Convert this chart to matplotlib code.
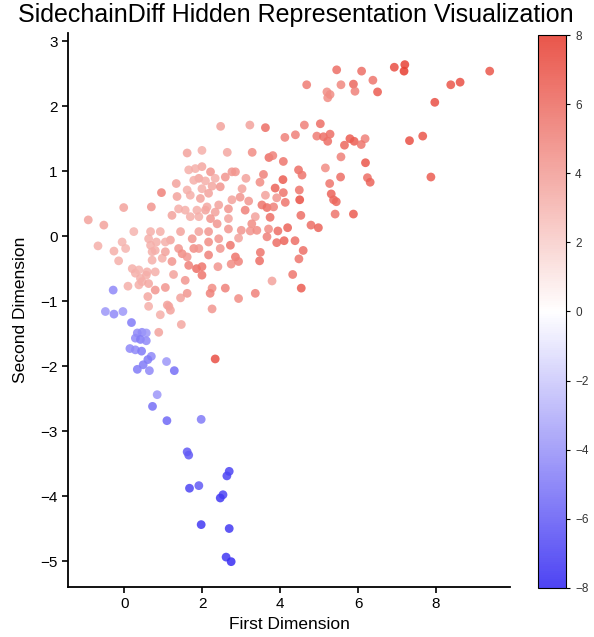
import matplotlib
matplotlib.use("Agg")
import matplotlib.pyplot as plt
from matplotlib.colors import LinearSegmentedColormap

plt.rcParams["font.family"] = ["Liberation Sans", "DejaVu Sans"]

# (x, y, value)
pts = [
    # right / top-right group
    (7.20, 2.64, 7.5), (7.18, 2.54, 7.8), (6.93, 2.60, 7.0), (9.38, 2.54, 6.8),
    (8.38, 2.33, 6.8), (8.62, 2.37, 7.0), (7.97, 2.06, 7.0), (5.45, 2.56, 5.8),
    (6.09, 2.54, 5.8), (4.68, 2.33, 5.2), (5.56, 2.33, 4.8), (5.88, 2.34, 6.0),
    (5.92, 2.23, 5.0), (6.38, 2.40, 5.5), (6.50, 2.22, 6.5), (5.20, 2.22, 4.6),
    (5.28, 2.18, 4.6), (5.22, 2.13, 4.6), (4.62, 1.71, 5.0), (5.03, 1.73, 5.8),
    (4.12, 1.52, 5.0), (4.39, 1.56, 5.0), (4.94, 1.54, 5.2), (5.11, 1.53, 5.8),
    (5.28, 1.57, 5.8), (5.22, 1.46, 5.8), (5.79, 1.50, 6.5), (5.90, 1.46, 6.5),
    (6.18, 1.50, 5.0), (6.08, 1.41, 5.5), (5.65, 1.40, 6.0), (7.32, 1.47, 7.0),
    (7.66, 1.54, 6.8), (7.87, 0.91, 6.5), (5.56, 1.22, 5.0), (6.19, 1.13, 6.8),
    (4.08, 1.15, 5.5), (4.47, 1.02, 5.8), (4.56, 0.94, 5.5), (5.16, 1.05, 4.6),
    (5.55, 0.91, 5.8), (6.24, 0.90, 5.8), (6.31, 0.83, 6.2), (4.07, 0.87, 6.5),
    (5.27, 0.81, 5.5), (4.08, 0.67, 5.5), (4.49, 0.71, 5.5), (4.50, 0.56, 7.0),
    (4.13, 0.52, 5.5), (5.31, 0.65, 6.2), (5.37, 0.56, 6.0), (5.44, 0.53, 6.0),
    (4.53, 0.32, 5.8), (5.41, 0.34, 5.5), (5.88, 0.34, 6.5), (4.79, 0.17, 5.8),
    (4.98, 0.13, 6.2), (4.19, 0.13, 6.2), (4.10, -0.07, 6.2), (4.38, -0.07, 5.8),
    (4.59, -0.22, 5.8), (4.48, -0.35, 5.5), (4.32, -0.59, 5.5), (4.54, -0.80, 6.5),
    # middle
    (2.47, 1.69, 3.7), (3.22, 1.71, 3.7), (3.62, 1.67, 5.8), (1.99, 1.32, 3.2),
    (2.64, 1.29, 3.5), (3.28, 1.29, 4.6), (3.71, 1.21, 5.8), (3.81, 1.24, 5.0),
    (1.99, 1.07, 3.5), (2.21, 0.99, 4.2), (2.76, 0.99, 4.2), (2.85, 0.99, 4.2),
    (2.59, 0.91, 4.2), (3.12, 0.89, 3.7), (3.57, 0.95, 5.0), (3.48, 0.83, 4.6),
    (1.91, 0.89, 3.7), (2.08, 0.85, 3.2), (2.33, 0.89, 3.2), (2.25, 0.77, 3.5),
    (2.46, 0.76, 4.2), (1.99, 0.73, 3.2), (3.02, 0.73, 3.7), (3.87, 0.74, 6.2),
    (3.62, 0.63, 3.7), (3.91, 0.59, 4.2), (2.97, 0.60, 4.2), (2.16, 0.66, 3.7),
    (2.76, 0.56, 3.7), (3.19, 0.54, 4.2), (3.53, 0.48, 5.5), (3.66, 0.44, 5.8),
    (3.83, 0.45, 5.0), (2.08, 0.40, 3.7), (2.33, 0.37, 3.7), (2.67, 0.42, 4.2),
    (3.10, 0.40, 5.0), (3.36, 0.30, 3.7), (3.74, 0.29, 5.8), (2.67, 0.27, 3.7),
    (2.38, 0.19, 4.2), (3.27, 0.19, 4.6), (1.91, 0.30, 3.2), (1.95, 0.58, 3.7),
    (2.12, 0.45, 3.5), (2.42, 0.48, 3.7), (2.21, 0.27, 4.2),
    # left light cluster
    (1.61, 1.28, 3.7), (1.65, 1.02, 3.2), (1.82, 1.04, 3.2), (1.33, 0.81, 3.7),
    (0.95, 0.67, 5.0), (1.35, 0.61, 3.7), (1.61, 0.71, 3.2), (1.78, 0.86, 3.2),
    (1.69, 0.63, 3.2), (0.69, 0.45, 4.2), (-0.02, 0.44, 3.7), (-0.93, 0.25, 3.7),
    (-0.53, 0.17, 3.7), (1.39, 0.42, 3.2), (1.22, 0.32, 3.7), (1.56, 0.40, 3.2),
    (1.69, 0.30, 3.2), (1.86, 0.40, 3.2),
    (-0.68, -0.15, 3.2), (-0.27, -0.23, 3.2), (0.24, 0.07, 3.0), (0.92, 0.07, 3.2),
    (-0.06, -0.09, 3.0), (0.03, -0.19, 3.0), (0.20, -0.50, 3.2), (0.28, -0.57, 3.2),
    (0.09, -0.77, 3.2), (0.37, -0.75, 3.2), (0.45, -0.70, 3.2), (0.62, -0.73, 3.5),
    (-0.15, -0.38, 3.2), (0.37, -0.52, 3.0), (0.41, -0.65, 3.2), (0.60, -0.93, 3.5),
    (0.56, -0.60, 3.2), (0.71, -0.37, 3.2), (0.71, -0.24, 3.2), (0.82, -0.09, 3.2),
    (0.97, -0.34, 3.2), (1.05, -0.24, 3.7), (0.79, -0.55, 3.2), (0.58, -0.55, 3.2),
    (0.79, -0.83, 4.2), (1.05, -0.79, 4.2), (0.62, -1.08, 3.2), (0.92, -1.21, 3.2),
    (1.14, -1.08, 3.7), (1.10, -1.06, 3.7), (1.18, -1.14, 3.7), (1.46, -1.36, 3.5),
    (0.88, -1.48, 3.7), (1.22, -0.39, 4.2), (1.26, -0.59, 3.7), (1.44, 0.07, 3.7),
    (1.74, -0.04, 4.2), (1.18, -0.06, 3.7), (1.39, -0.19, 4.2), (1.48, -0.27, 4.6),
    (1.61, -0.32, 4.2), (1.56, -0.68, 4.2), (1.44, -0.95, 3.7), (1.61, -0.88, 4.2),
    (1.65, -0.45, 5.0), (1.85, -0.50, 5.8), (1.78, -0.19, 4.6), (0.67, 0.07, 3.2),
    (1.05, -0.09, 3.2), (0.67, -0.14, 3.2), (0.79, -0.22, 3.2), (0.62, -0.04, 3.2),
    # lower middle
    (2.67, 0.11, 4.2), (2.16, 0.07, 4.2), (1.91, 0.07, 3.7), (2.42, -0.04, 4.2),
    (2.93, -0.03, 3.7), (3.00, 0.09, 4.2), (3.23, 0.08, 4.2), (3.40, 0.09, 4.6),
    (3.70, 0.11, 4.6), (3.94, 0.08, 5.8), (3.66, -0.01, 5.0), (3.91, -0.10, 5.8),
    (2.16, -0.09, 4.6), (1.91, -0.19, 4.2), (2.16, -0.29, 5.0), (2.46, -0.19, 4.2),
    (2.72, -0.14, 5.5), (2.74, -0.43, 4.6), (2.85, -0.32, 5.5), (2.93, -0.39, 5.0),
    (3.49, -0.25, 5.5), (3.47, -0.38, 5.8), (2.40, -0.47, 4.2), (1.99, -0.47, 5.5),
    (1.99, -0.60, 5.5), (3.79, -0.69, 3.7), (2.59, -0.80, 5.0), (2.25, -0.80, 4.6),
    (2.20, -0.88, 5.0), (3.36, -0.88, 5.0), (2.93, -0.96, 4.6), (2.25, -1.12, 4.2),
    (2.33, -1.89, 7.0),
    # blue group
    (-0.29, -0.83, -4.3), (-0.49, -1.16, -3.8), (-0.27, -1.20, -4.3), (-0.04, -1.16, -3.8),
    (0.18, -1.33, -4.8), (0.33, -1.49, -4.3), (0.45, -1.48, -4.3), (0.56, -1.49, -3.8),
    (0.28, -1.57, -4.3), (0.41, -1.59, -4.8), (0.56, -1.61, -4.3), (0.14, -1.73, -4.3),
    (0.28, -1.75, -4.3), (0.44, -1.77, -4.8), (0.69, -1.85, -4.3), (0.60, -1.90, -4.8),
    (0.48, -1.98, -4.8), (0.33, -2.05, -4.8), (0.64, -2.07, -4.3), (1.08, -1.93, -3.8),
    (1.28, -2.07, -5.2), (0.84, -2.44, -3.8), (0.72, -2.62, -5.2), (1.09, -2.84, -5.5),
    (1.97, -2.82, -4.8), (1.61, -3.32, -6.0), (1.65, -3.37, -6.0), (2.69, -3.62, -6.8),
    (2.63, -3.69, -6.8), (1.67, -3.88, -6.8), (1.91, -3.84, -6.0), (2.53, -3.98, -6.8),
    (2.46, -4.03, -7.2), (1.97, -4.44, -7.2), (2.69, -4.50, -7.2), (2.61, -4.94, -7.2),
    (2.74, -5.01, -7.6),
]
x = [p[0] for p in pts]
y = [p[1] for p in pts]
vals = [p[2] for p in pts]

cmap = LinearSegmentedColormap.from_list("bwr_soft", ["#2f24f2", "#ffffff", "#e6392c"])

fig = plt.figure(figsize=(5.94, 6.37), dpi=100)
ax = fig.add_axes([0.1145, 0.0785, 0.744, 0.869])
cax = fig.add_axes([0.906, 0.077, 0.047, 0.868])

sc = ax.scatter(x, y, c=vals, cmap=cmap, vmin=-8, vmax=8, s=40, alpha=0.85,
                linewidths=0)
ax.set_xlim(-1.45, 9.9)
ax.set_ylim(-5.4, 3.12)
ax.set_xticks([0, 2, 4, 6, 8])
ax.set_yticks([-5, -4, -3, -2, -1, 0, 1, 2, 3])
ax.spines["top"].set_visible(False)
ax.spines["right"].set_visible(False)
for s in ("left", "bottom"):
    ax.spines[s].set_linewidth(1.3)
ax.tick_params(labelsize=11, width=1.2, length=4)
ax.set_xlabel("First Dimension", fontsize=12.5, labelpad=4)
ax.set_ylabel("Second Dimension", fontsize=12.5, labelpad=9)

cb = fig.colorbar(sc, cax=cax, ticks=range(-8, 9, 2))
cb.outline.set_linewidth(0.8)
cb.ax.tick_params(labelsize=8.5, length=3, labelcolor="#333333")

fig.text(0.498, 0.976, "SidechainDiff Hidden Representation Visualization",
         ha="center", va="center", fontsize=18)

fig.savefig("out.png", dpi=100)
